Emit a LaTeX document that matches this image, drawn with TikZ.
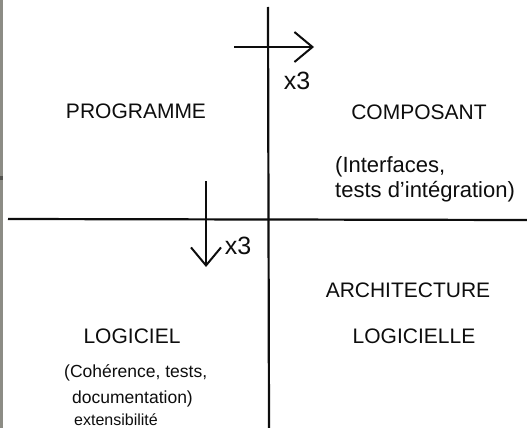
\documentclass[tikz,border=0pt]{standalone}
\usepackage{fontspec}
\setmainfont{Liberation Sans}
\usetikzlibrary{arrows.meta,positioning}
\definecolor{EdgeClr}{rgb}{0.55,0.55,0.52}
\definecolor{InkClr}{rgb}{0.05,0.05,0.05}

\begin{document}
\begin{tikzpicture}[x=1pt,y=-1pt,
  axe/.style={line width=2.2pt,color=InkClr},
  fleche/.style={line width=2pt,color=InkClr,-{Straight Barb[length=18pt,width=30pt,line width=2pt]}},
  titre/.style={font=\fontsize{21}{24}\selectfont,text=InkClr,inner sep=0pt},
  note/.style={font=\fontsize{22}{25}\selectfont,text=InkClr,align=left,inner sep=0pt},
  fois/.style={font=\fontsize{25}{26}\selectfont,text=InkClr,inner sep=0pt}]

\useasboundingbox (0,0) rectangle (527,428);
\fill[EdgeClr] (0,0) rectangle (3,428);
\fill[EdgeClr!60!black] (0,176) rectangle (3,180);

\coordinate (haut) at (268,7);
\coordinate (bas) at (269,428);
\coordinate (gauche) at (8,219);
\coordinate (droite) at (527,220);

\draw[axe] (haut) -- (bas);
\draw[axe] (gauche) -- (droite);

\coordinate (h1) at (234,47);
\coordinate (h2) at (314,47);
\coordinate (v1) at (206,181);
\coordinate (v2) at (206,267);

\draw[fleche] (h1) -- (h2);
\draw[fleche] (v1) -- (v2);

\node[fois] (foisA) at (297,81) {x3};
\node[fois] (foisB) at (238,246) {x3};

\node[titre] (programme) at (136,111) {PROGRAMME};
\node[titre] (composant) at (419,112) {COMPOSANT};
\node[titre] (architecture) at (408,290) {ARCHITECTURE};
\node[titre] (logicielle) at (414,336) {LOGICIELLE};
\node[titre] (logiciel) at (132,336) {LOGICIEL};

\node[note,anchor=west] (interfaces) at (335,179) {(Interfaces,\\ tests d'intégration)};
\node[note,font=\fontsize{17.5}{26}\selectfont,anchor=west] (coherence) at (64,386) {(Cohérence, tests,\\ \hspace*{8pt}documentation)};
\node[note,font=\fontsize{16}{18}\selectfont,anchor=west] (extensibilite) at (74,420) {extensibilité};

\end{tikzpicture}
\end{document}
